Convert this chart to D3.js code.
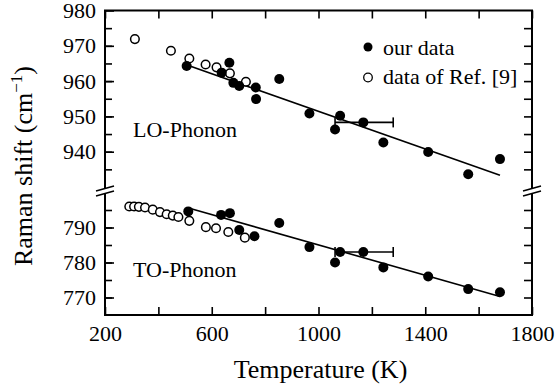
<!DOCTYPE html>
<html>
<head>
<meta charset="utf-8">
<script src="https://cdn.jsdelivr.net/npm/d3@7"></script>
<style>
  body { margin: 0; background: #fff; }
</style>
</head>
<body>
<div id="chart"></div>
<script>
// LO phonon, our data
var loTemp = [506, 637, 666, 681, 703, 765, 766, 853, 966, 1062, 1081, 1168, 1243, 1411, 1561, 1680];
var loShift = [964.3, 962.4, 965.2, 959.5, 958.6, 958.2, 954.9, 960.6, 950.8, 946.3, 950.2, 948.3, 942.6, 939.9, 933.6, 937.9];
// LO phonon, Ref. [9]
var loRefTemp = [312, 447, 516, 577, 618, 668, 728];
var loRefShift = [971.9, 968.6, 966.4, 964.7, 963.9, 962.2, 959.8];
// TO phonon, our data
var toTemp = [512, 635, 668, 703, 760, 853, 966, 1062, 1081, 1168, 1243, 1411, 1561, 1680];
var toShift = [794.6, 793.6, 794.1, 789.3, 787.5, 791.3, 784.4, 780.0, 783.0, 783.0, 778.6, 776.0, 772.4, 771.5];
// TO phonon, Ref. [9]
var toRefTemp = [291, 309, 327, 350, 379, 406, 431, 454, 475, 516, 578, 616, 662, 724];
var toRefShift = [796.0, 796.0, 795.9, 795.7, 795.1, 794.4, 793.8, 793.4, 793.0, 791.9, 790.1, 789.8, 788.7, 787.1];
// linear fits (end points) and error bar
var loFit = [[510, 964.5], [1680, 933.3]];
var toFit = [[516, 795.5], [1680, 770.3]];
var errT = [1062, 1280];
var loErrShift = 948.3;
var toErrShift = 783.0;

var xTicks = [200, 600, 1000, 1400, 1800];
var loTicks = [940, 950, 960, 970, 980];
var toTicks = [770, 780, 790];

var W = 555, H = 388;
var x0 = 105, x1 = 532;
var FONT = "Liberation Serif";
var x = d3.scaleLinear().domain([200, 1800]).range([x0, x1]);
var yTop = d3.scaleLinear().domain([930, 980]).range([187, 10.5]);
var yBot = d3.scaleLinear().domain([765, 800]).range([315, 192.5]);

var svg = d3.select("#chart").append("svg")
  .attr("width", W).attr("height", H)
  .attr("font-family", FONT);

var fs = 22;

// frame lines
var frame = svg.append("g").attr("stroke", "#000").attr("stroke-width", 2).attr("fill", "none");
frame.append("line").attr("x1", x0 - 1).attr("x2", x1 + 1).attr("y1", 10.5).attr("y2", 10.5);
frame.append("line").attr("x1", x0 - 1).attr("x2", x1 + 1).attr("y1", 315).attr("y2", 315);
[x0, x1].forEach(function (xx) {
  frame.append("line").attr("x1", xx).attr("x2", xx).attr("y1", 10.5).attr("y2", 188.5);
  frame.append("line").attr("x1", xx).attr("x2", xx).attr("y1", 193.5).attr("y2", 315);
  // break marks
  frame.append("line").attr("x1", xx - 9).attr("x2", xx + 9).attr("y1", 191).attr("y2", 186).attr("stroke-width", 1.6);
  frame.append("line").attr("x1", xx - 9).attr("x2", xx + 9).attr("y1", 196).attr("y2", 191).attr("stroke-width", 1.6);
});

function styleAxis(g) {
  g.attr("font-family", FONT).attr("font-size", fs);
  g.select(".domain").remove();
  g.selectAll(".tick line").attr("stroke", "#000").attr("stroke-width", 1.6);
  g.selectAll("text").attr("font-family", FONT).attr("font-size", fs).attr("fill", "#000");
}

// x axes (every 200 ticks, labels every 400)
var xAll = d3.range(200, 1801, 200);
svg.append("g").attr("transform", "translate(0,315)")
  .call(d3.axisBottom(x).tickValues(xAll).tickSizeInner(-8).tickSizeOuter(0)
    .tickPadding(10).tickFormat(function (d) { return xTicks.indexOf(d) >= 0 ? d : ""; }))
  .call(styleAxis);
svg.append("g").attr("transform", "translate(0,10.5)")
  .call(d3.axisTop(x).tickValues(xAll).tickSizeInner(-8).tickSizeOuter(0).tickFormat(""))
  .call(styleAxis);

// y axes, top panel
var loAll = d3.range(935, 980, 5);
svg.append("g").attr("transform", "translate(" + x0 + ",0)")
  .call(d3.axisLeft(yTop).tickValues(loAll).tickSizeInner(-7).tickSizeOuter(0).tickFormat(""))
  .call(styleAxis);
svg.append("g").attr("transform", "translate(" + x0 + ",0)")
  .call(d3.axisLeft(yTop).tickValues(loTicks).tickSizeInner(-9).tickSizeOuter(0).tickPadding(9))
  .call(styleAxis);
svg.append("g").attr("transform", "translate(" + x1 + ",0)")
  .call(d3.axisRight(yTop).tickValues(loAll).tickSizeInner(-8).tickSizeOuter(0).tickFormat(""))
  .call(styleAxis);

// y axes, bottom panel
var toAll = d3.range(770, 800, 5);
svg.append("g").attr("transform", "translate(" + x0 + ",0)")
  .call(d3.axisLeft(yBot).tickValues(toAll).tickSizeInner(-7).tickSizeOuter(0).tickFormat(""))
  .call(styleAxis);
svg.append("g").attr("transform", "translate(" + x0 + ",0)")
  .call(d3.axisLeft(yBot).tickValues(toTicks).tickSizeInner(-9).tickSizeOuter(0).tickPadding(9))
  .call(styleAxis);
svg.append("g").attr("transform", "translate(" + x1 + ",0)")
  .call(d3.axisRight(yBot).tickValues(toAll).tickSizeInner(-8).tickSizeOuter(0).tickFormat(""))
  .call(styleAxis);

// fit lines
var line = function (y) {
  return d3.line().x(function (d) { return x(d[0]); }).y(function (d) { return y(d[1]); });
};
svg.append("path").datum(loFit).attr("d", line(yTop)).attr("stroke", "#000").attr("stroke-width", 1.6).attr("fill", "none");
svg.append("path").datum(toFit).attr("d", line(yBot)).attr("stroke", "#000").attr("stroke-width", 1.6).attr("fill", "none");

// error bars
function errorBar(y, v) {
  var g = svg.append("g").attr("stroke", "#000").attr("stroke-width", 1.6);
  g.append("line").attr("x1", x(errT[0])).attr("x2", x(errT[1])).attr("y1", y(v)).attr("y2", y(v));
  errT.forEach(function (t) {
    g.append("line").attr("x1", x(t)).attr("x2", x(t)).attr("y1", y(v) - 5).attr("y2", y(v) + 5);
  });
}
errorBar(yTop, loErrShift);
errorBar(yBot, toErrShift);

// points
function hollow(ts, vs, y) {
  svg.append("g").selectAll("circle").data(d3.zip(ts, vs)).join("circle")
    .attr("cx", function (d) { return x(d[0]); })
    .attr("cy", function (d) { return y(d[1]); })
    .attr("r", 4.3).attr("fill", "#fff").attr("stroke", "#000").attr("stroke-width", 1.5);
}
function filled(ts, vs, y) {
  svg.append("g").selectAll("circle").data(d3.zip(ts, vs)).join("circle")
    .attr("cx", function (d) { return x(d[0]); })
    .attr("cy", function (d) { return y(d[1]); })
    .attr("r", 5).attr("fill", "#000");
}
hollow(loRefTemp, loRefShift, yTop);
filled(loTemp, loShift, yTop);
hollow(toRefTemp, toRefShift, yBot);
filled(toTemp, toShift, yBot);

// panel labels
function label(xp, yp, s, size) {
  return svg.append("text").attr("x", xp).attr("y", yp)
    .attr("font-family", FONT).attr("font-size", size || fs).attr("fill", "#000").text(s);
}
label(133, 137, "LO-Phonon");
label(133, 277, "TO-Phonon");

// legend
svg.append("circle").attr("cx", 368).attr("cy", 47).attr("r", 4.5).attr("fill", "#000");
label(383, 55, "our data");
svg.append("circle").attr("cx", 368).attr("cy", 77.5).attr("r", 4.3).attr("fill", "#fff").attr("stroke", "#000").attr("stroke-width", 1.3);
label(383, 83.5, "data of Ref. [9]");

// axis titles
label((x0 + x1) / 2 + 2, 378, "Temperature (K)", 26).attr("text-anchor", "middle");
var yl = svg.append("text").attr("transform", "translate(32,166) rotate(-90)")
  .attr("text-anchor", "middle").attr("font-family", FONT).attr("font-size", 26).attr("fill", "#000");
yl.append("tspan").text("Raman shift (cm");
yl.append("tspan").attr("dy", -10).attr("font-size", 17).text("\u22121");
yl.append("tspan").attr("dy", 10).text(")");
</script>
</body>
</html>
